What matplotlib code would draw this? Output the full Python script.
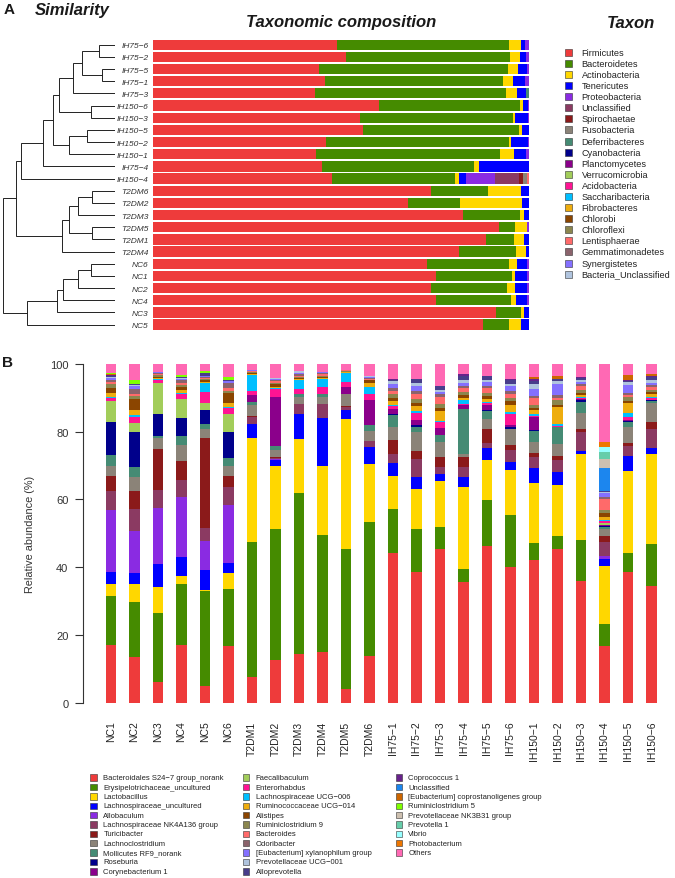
import numpy as np
import matplotlib.pyplot as plt
from matplotlib.patches import Rectangle

plt.rcParams['font.family'] = ['Liberation Sans', 'DejaVu Sans']

W, H = 675, 879
M = "\u2212"

# ---------------- panel A data ----------------
rows_a = ["IH75-6", "IH75-2", "IH75-5", "IH75-1", "IH75-3", "IH150-6", "IH150-3",
          "IH150-5", "IH150-2", "IH150-1", "IH75-4", "IH150-4", "T2DM6", "T2DM2",
          "T2DM3", "T2DM5", "T2DM1", "T2DM4", "NC6", "NC1", "NC2", "NC4", "NC3", "NC5"]

phyla = ["Firmicutes", "Bacteroidetes", "Actinobacteria", "Tenericutes", "Proteobacteria",
         "Unclassified", "Spirochaetae", "Fusobacteria", "Deferribacteres", "Cyanobacteria",
         "Planctomycetes", "Verrucomicrobia", "Acidobacteria", "Saccharibacteria",
         "Fibrobacteres", "Chlorobi", "Chloroflexi", "Lentisphaerae", "Gemmatimonadetes",
         "Synergistetes", "Bacteria_Unclassified"]
phylum_colors = ["#EE3B3B", "#458B00", "#FFD700", "#0000FF", "#8A2BE2", "#8B3A62", "#8B1A1A",
                 "#8B8378", "#458B74", "#00008B", "#8B008B", "#A2CD5A", "#FF1493", "#00BFFF",
                 "#EEAD0E", "#8B4500", "#8B864E", "#FF6A6A", "#8B636C", "#8470FF", "#B0C4DE"]

firmicutes = [49.0, 51.2, 44.2, 45.7, 43.1, 60.1, 55.1, 55.9, 46.0, 43.3, 44.9, 47.5,
              73.9, 67.7, 82.4, 92.0, 88.5, 81.3, 73.0, 75.2, 73.9, 75.2, 91.3, 87.8]
bacteroidetes = [45.7, 43.7, 50.3, 47.4, 50.7, 37.5, 40.6, 41.4, 48.7, 49.0, 40.5, 32.8,
                 15.1, 13.9, 15.2, 4.4, 7.4, 15.2, 21.8, 20.2, 20.2, 20.0, 6.6, 6.9]
actinobacteria = [3.3, 2.7, 2.7, 2.6, 3.1, 0.9, 0.6, 0.9, 0.5, 3.8, 1.3, 1.1,
                  8.9, 16.6, 1.2, 3.2, 2.9, 2.6, 1.9, 0.9, 2.2, 1.3, 0.9, 3.3]
tenericutes = [0.9, 1.6, 2.4, 3.2, 2.3, 1.3, 3.4, 1.8, 4.6, 3.1, 13.3, 1.8,
               2.1, 1.8, 1.2, 0.0, 1.2, 0.9, 2.7, 3.3, 3.1, 3.1, 1.2, 2.0]
proteobacteria = [1.1, 0.8, 0.4, 1.1, 0.0, 0.2, 0.3, 0.0, 0.2, 0.8, 0.0, 7.8,
                  0.0, 0.0, 0.0, 0.4, 0.0, 0.0, 0.6, 0.4, 0.6, 0.4, 0.0, 0.0]
unclassified_p = [0, 0, 0, 0, 0, 0, 0, 0, 0, 0, 0, 6.3, 0, 0, 0, 0, 0, 0, 0, 0, 0, 0, 0, 0]
spirochaetae = [0, 0, 0, 0, 0, 0, 0, 0, 0, 0, 0, 1.0, 0, 0, 0, 0, 0, 0, 0, 0, 0, 0, 0, 0]
fusobacteria = [0, 0, 0, 0, 0, 0, 0, 0, 0, 0, 0, 1.1, 0, 0, 0, 0, 0, 0, 0, 0, 0, 0, 0, 0]
deferribacteres = [0, 0, 0, 0, 0.8, 0, 0, 0, 0, 0, 0, 0, 0, 0, 0, 0, 0, 0, 0, 0, 0, 0, 0, 0]
lentisphaerae = [0, 0, 0, 0, 0, 0, 0, 0, 0, 0, 0, 0.6, 0, 0, 0, 0, 0, 0, 0, 0, 0, 0, 0, 0]

# (phylum index, values) for the phyla that show up in the bars
phylum_series = [(0, firmicutes), (1, bacteroidetes), (2, actinobacteria), (3, tenericutes),
                 (4, proteobacteria), (5, unclassified_p), (6, spirochaetae),
                 (7, fusobacteria), (8, deferribacteres), (17, lentisphaerae)]

# dendrogram merges: (child a, child b, height); leaves are row indices 0..23
merges = [
    (0, 1, 15.7), (2, 3, 13.3), (24, 25, 33.3), (26, 4, 41.7), (5, 6, 24.3),
    (27, 28, 56.0), (7, 8, 28.3), (30, 9, 46.0), (29, 31, 62.3), (32, 10, 71.7),
    (33, 11, 94.3), (12, 13, 22.7), (35, 14, 36.7), (15, 16, 23.3), (36, 37, 45.7),
    (38, 17, 53.3), (34, 39, 99.0), (18, 19, 24.0), (41, 20, 36.7), (42, 21, 52.3),
    (43, 22, 57.7), (44, 23, 88.3), (40, 45, 112.3),
]

# ---------------- panel B data ----------------
samples_b = ["NC1", "NC2", "NC3", "NC4", "NC5", "NC6", "T2DM1", "T2DM2", "T2DM3", "T2DM4",
             "T2DM5", "T2DM6", "IH75-1", "IH75-2", "IH75-3", "IH75-4", "IH75-5", "IH75-6",
             "IH150-1", "IH150-2", "IH150-3", "IH150-4", "IH150-5", "IH150-6"]

genera = ["Bacteroidales S24-7 group_norank", "Erysipelotrichaceae_uncultured", "Lactobacillus",
          "Lachnospiraceae_uncultured", "Allobaculum", "Lachnospiraceae NK4A136 group",
          "Turicibacter", "Lachnoclostridium", "Mollicutes RF9_norank", "Roseburia",
          "Corynebacterium 1", "Faecalibaculum", "Enterorhabdus", "Lachnospiraceae UCG-006",
          "Ruminococcaceae UCG-014", "Alistipes", "Ruminiclostridium 9", "Bacteroides",
          "Odoribacter", "[Eubacterium] xylanophilum group", "Prevotellaceae UCG-001",
          "Alloprevotella", "Coprococcus 1", "Unclassified",
          "[Eubacterium] coprostanoligenes group", "Ruminiclostridium 5",
          "Prevotellaceae NK3B31 group", "Prevotella 1", "Vibrio", "Photobacterium", "Others"]
genus_colors = phylum_colors + ["#483D8B", "#68228B", "#1C86EE", "#CD6600", "#7FFF00",
                                "#CDC0B0", "#66CDAA", "#97FFFF", "#EE7600", "#FF69B4"]

# relative abundance per sample, in the genus order above
nc1 = [17, 14.5, 3.5, 3.5, 18.5, 5.5, 4.5, 3, 3, 10, 0, 6, 1, 0.3, 1.2, 1.5, 1, 0.6, 0.7, 0.7,
       0.3, 0.3, 0.2, 0, 0.2, 0.3, 0, 0, 0, 0, 2.7]
nc2 = [13.4, 16.4, 5.2, 3.2, 12.4, 6.6, 5.2, 4.3, 3, 10.1, 0, 2.7, 1.7, 0.8, 1.3, 3.4, 0.9, 0.4,
       1.5, 1.1, 0.2, 0.2, 0, 0, 0, 1.4, 0, 0, 0, 0, 4.6]
nc3 = [6, 20.5, 7.7, 6.6, 16.8, 5.1, 12.2, 3.1, 0.8, 6.4, 0, 9.3, 0.8, 0.2, 0.3, 0.5, 0.4, 0.3,
       0.4, 0.2, 0, 0, 0, 0, 0, 0, 0, 0, 0, 0, 2.4]
nc4 = [17, 18.1, 2.2, 5.8, 17.7, 4.8, 5.7, 4.7, 2.8, 5.2, 0, 5.7, 1.5, 0.2, 0.8, 0.9, 0.7, 0.5,
       0.9, 0.5, 0.2, 0.2, 0, 0, 0, 0.6, 0, 0, 0, 0, 3.3]
nc5 = [5, 27.8, 0.4, 5.9, 8.7, 3.7, 26.7, 2.6, 1.5, 4.2, 0, 1.9, 3.2, 2.7, 0.5, 0.5, 0.4, 0.3,
       0.3, 0.2, 0.1, 0.6, 0, 0, 0, 0.6, 0, 0, 0, 0, 2.2]
nc6 = [16.8, 16.6, 4.8, 2.9, 17.3, 5.2, 3.4, 3, 2.2, 7.8, 0, 5.3, 1.8, 0.3, 1.2, 2.7, 0.7, 1,
       1.3, 0.7, 0.1, 0.1, 0, 0, 0, 1.1, 0, 0, 0, 0, 3.7]
t2dm1 = [7.5, 39.8, 30.7, 4.3, 0, 2, 0.3, 3.2, 1, 0, 2, 0, 1.2, 4.7, 0.4, 0.3, 0.2, 0.2, 0.2,
         0.2, 0, 0, 0, 0, 0, 0, 0, 0, 0, 0, 1.8]
t2dm2 = [12.5, 38.8, 18.7, 1.7, 0.2, 0.3, 0.3, 2.1, 1.3, 0, 14.3, 0, 2.4, 0.2, 0.5, 0.7, 0.5,
         0.4, 0.4, 0.3, 0.2, 0, 0, 0, 0, 0, 0, 0, 0, 0, 4.2]
t2dm3 = [14.3, 47.6, 15.9, 7.4, 0, 2.9, 0, 2.1, 1, 0, 0, 0, 1.3, 2.7, 0.4, 0.4, 0.3, 0.3, 0.3,
         0.5, 0.4, 0, 0, 0, 0, 0, 0, 0, 0, 0, 2.2]
t2dm4 = [15, 34.5, 20.3, 14.3, 0, 4, 0, 2.2, 0.9, 0, 0, 0, 2.1, 2.3, 0.4, 0.3, 0.3, 0.3, 0.3,
         0.3, 0, 0, 0, 0, 0, 0, 0, 0, 0, 0, 2.5]
t2dm5 = [4, 41.3, 38.4, 2.8, 0, 0.8, 0.2, 3.6, 0, 0, 2, 0, 1.5, 2.7, 0.2, 0.2, 0.2, 0.2, 0.1,
         0, 0, 0, 0, 0, 0, 0, 0, 0, 0, 0, 1.8]
t2dm6 = [13.8, 39.4, 17.2, 5.2, 0, 1.7, 0, 3, 1.7, 0, 7.3, 0, 1.7, 2.3, 1.2, 0.7, 0.2, 0.2,
         0.2, 0.5, 0.2, 0, 0, 0, 0, 0, 0, 0, 0, 0, 3.5]
ih75_1 = [44.2, 13, 9.6, 4.1, 0, 2.5, 4.1, 3.9, 3.4, 0.3, 1.5, 0, 1, 0.3, 1.2, 1, 1, 1, 0.8,
          1.2, 0.8, 0.5, 0.2, 0, 0, 0, 0, 0, 0, 0, 4.4]
ih75_2 = [38.5, 12.8, 11.8, 3.6, 0, 5.2, 2.3, 5.6, 1.5, 0.7, 1.5, 0, 2, 0.5, 1.5, 1, 1.2, 1.3,
          1, 1.5, 1, 1, 0, 0, 0, 0, 0, 0, 0, 0, 4.5]
ih75_3 = [45.2, 6.6, 13.7, 2.1, 0, 2.1, 2.8, 4.6, 1.9, 0, 2, 0, 2, 0.3, 2.9, 0.8, 1.3, 2, 0.7,
          0.8, 0.5, 1.3, 0, 0, 0, 0, 0, 0, 0, 0, 6.4]
ih75_4 = [35.5, 3.9, 24.2, 3, 0, 2.9, 3, 1, 13.3, 0, 1.2, 0, 0.3, 1, 0.7, 0.8, 1, 1, 0.8, 0.8,
          1, 1.2, 0.4, 0, 0, 0, 0, 0, 0, 0, 3]
ih75_5 = [46.3, 13.5, 11.9, 3.4, 0, 1.7, 4.1, 2.9, 2.3, 0.3, 1.4, 0, 0.6, 0.5, 0.8, 0.8, 1,
          1.5, 0.6, 1.2, 0.6, 1, 0, 0, 0, 0, 0, 0, 0, 0, 3.6]
ih75_6 = [39.9, 15.6, 13.3, 2.2, 0, 3.6, 1.4, 4.8, 0, 0.7, 0.5, 0, 3.2, 0.6, 2.2, 1.2, 0.8, 1,
          1, 1.5, 0.7, 1, 0.3, 0, 0, 0, 0, 0, 0, 0, 4.5]
ih150_1 = [42.2, 4.9, 17.7, 4.6, 0, 3, 1.4, 3.3, 3.2, 0.3, 3.6, 0, 0.4, 0.6, 1.3, 0.5, 1, 2,
           0.5, 2, 1.5, 1, 0.5, 0, 0.7, 0, 0, 0, 0, 0, 3.8]
ih150_2 = [45.2, 3.9, 15.2, 3.8, 0, 3.4, 1.3, 3.7, 4.8, 0, 0, 0, 0.3, 0.7, 5.1, 0.6, 1.3, 0.6,
           0.8, 3.4, 0.8, 0.6, 0.2, 0, 0.8, 0, 0, 0, 0, 0, 3.5]
ih150_3 = [36, 12.1, 25.4, 0.7, 0, 5.6, 1, 4.7, 3.4, 0.4, 0.4, 0, 0.3, 0.2, 0.5, 0.8, 0.8, 1.2,
           0.5, 0.8, 0.5, 0.7, 0.3, 0, 0, 0, 0, 0, 0, 0, 3.7]
ih150_4 = [16.8, 6.3, 17.3, 2, 0.8, 4.3, 1.8, 2, 0.5, 0.3, 0.4, 0.6, 0.5, 0.4, 0.8, 1.2, 0.8,
           3.2, 0.8, 1, 0.4, 0.3, 0, 6.9, 0, 0, 2.5, 2, 1.7, 1.5, 22.9]
ih150_5 = [38.6, 5.7, 24.1, 4.3, 0, 3.2, 0.8, 4.8, 1.3, 0.3, 0.3, 0, 1, 1, 3, 0.6, 1.3, 0.5,
           0.5, 2.4, 0.9, 0.3, 0.3, 0, 1.6, 0, 0, 0, 0, 0, 3.2]
ih150_6 = [34.3, 12.5, 26.6, 1.8, 0, 5.7, 1.9, 5.6, 0.6, 0.3, 0.2, 0, 0.4, 0.4, 0.8, 0.6, 0.6,
           0.8, 0.6, 0.8, 0.8, 0.8, 0.4, 0, 0.6, 0, 0, 0, 0, 0, 2.9]


def px_axes(fig, left, top, width, height):
    return fig.add_axes([left / W, 1 - (top + height) / H, width / W, height / H])


def ftext(fig, x, y, s, **kw):
    fig.text(x / W, 1 - y / H, s, **kw)


def fbox(fig, x, y, size, color):
    fig.add_artist(Rectangle((x / W, 1 - (y + size / 2) / H), size / W, size / H,
                             transform=fig.transFigure, facecolor=color,
                             edgecolor="#333333", linewidth=0.4))


def draw_tree(ax, merges, n):
    pos = {i: float(i) for i in range(n)}
    hgt = {i: 0.0 for i in range(n)}
    for k, (a, b, h) in enumerate(merges):
        ax.plot([hgt[a], h, h, hgt[b]], [pos[a], pos[a], pos[b], pos[b]],
                color="#222222", lw=0.7, solid_joinstyle="miter")
        pos[n + k] = (pos[a] + pos[b]) / 2
        hgt[n + k] = h


def main():
    fig = plt.figure(figsize=(W / 100, H / 100), dpi=100)
    txt = "#1a1a1a"

    # ---------- panel A ----------
    row_h = 12.17
    top_a = 45.7 - row_h / 2
    n = len(rows_a)

    axd = px_axes(fig, 2.7, top_a, 112.3, n * row_h)
    draw_tree(axd, merges, n)
    axd.set_xlim(112.3, 0)
    axd.set_ylim(n - 0.5, -0.5)
    axd.axis("off")

    axa = px_axes(fig, 153, top_a, 376, n * row_h)
    y = np.arange(n)
    left = np.zeros(n)
    for idx, vals in phylum_series:
        vals = np.array(vals, dtype=float)
        axa.barh(y, vals, left=left, height=0.84, color=phylum_colors[idx], linewidth=0)
        left += vals
    axa.set_xlim(0, 100)
    axa.set_ylim(n - 0.5, -0.5)
    axa.set_yticks(y)
    axa.set_yticklabels([r.replace("-", M) for r in rows_a], fontsize=6,
                        fontstyle="italic", color="#333333")
    axa.tick_params(axis="y", length=0, pad=3)
    axa.set_xticks([])
    for s in axa.spines.values():
        s.set_visible(False)

    ftext(fig, 4, 10, "A", fontsize=11, fontweight="bold", va="center", color=txt)
    ftext(fig, 35, 10, "Similarity", fontsize=12, fontweight="bold", fontstyle="italic",
          va="center", color=txt)
    ftext(fig, 341, 23, "Taxonomic composition", fontsize=12, fontweight="bold",
          fontstyle="italic", va="center", ha="center", color=txt)
    ftext(fig, 631, 23, "Taxon", fontsize=12, fontweight="bold", fontstyle="italic",
          va="center", ha="center", color=txt)

    for i, (name, col) in enumerate(zip(phyla, phylum_colors)):
        yy = 53.3 + i * 11.09
        fbox(fig, 565, yy, 7, col)
        ftext(fig, 581.5, yy, name, fontsize=6.6, va="center", color="#222222")

    # ---------- panel B ----------
    spacing = 23.5
    axb = px_axes(fig, 83, 365, 582, 338.5)
    table = np.array([nc1, nc2, nc3, nc4, nc5, nc6, t2dm1, t2dm2, t2dm3, t2dm4, t2dm5, t2dm6,
                      ih75_1, ih75_2, ih75_3, ih75_4, ih75_5, ih75_6,
                      ih150_1, ih150_2, ih150_3, ih150_4, ih150_5, ih150_6], dtype=float).T
    xb = np.arange(len(samples_b))
    bottom = np.zeros(len(samples_b))
    for vals, col in zip(table, genus_colors):
        axb.bar(xb, vals, bottom=bottom, width=0.43, color=col, linewidth=0)
        bottom += vals
    x0 = (83 - 111) / spacing
    axb.set_xlim(x0, x0 + 582 / spacing)
    axb.set_ylim(0, 100)
    for s in ["top", "right", "bottom"]:
        axb.spines[s].set_visible(False)
    axb.spines["left"].set_bounds(0, 100)
    axb.spines["left"].set_linewidth(0.8)
    axb.spines["left"].set_color("#333333")
    axb.set_yticks([0, 20, 40, 60, 80, 100])
    axb.tick_params(axis="y", length=5.5, width=0.8, pad=5, labelsize=8, colors="#333333")
    axb.set_xticks(xb)
    axb.set_xticklabels([s.replace("-", M) for s in samples_b], rotation=90, fontsize=7.5,
                        color="#222222")
    axb.tick_params(axis="x", length=0, pad=13)
    ftext(fig, 30, 534, "Relative abundance (%)", fontsize=7.8, rotation=90, ha="center",
          va="center", color="#333333")
    ftext(fig, 2, 363, "B", fontsize=11, fontweight="bold", va="center", color=txt)

    col_box = [90, 242.5, 395.5]
    col_txt = [103.3, 255.7, 408.3]
    for i, (name, col) in enumerate(zip(genera, genus_colors)):
        c, r = divmod(i, 11)
        yy = 778.7 + r * 9.36
        fbox(fig, col_box[c], yy, 6.5, col)
        ftext(fig, col_txt[c], yy, name.replace("-", M), fontsize=5.5, va="center",
              color="#222222")

    fig.savefig("out.png", dpi=100)


if __name__ == "__main__":
    main()
